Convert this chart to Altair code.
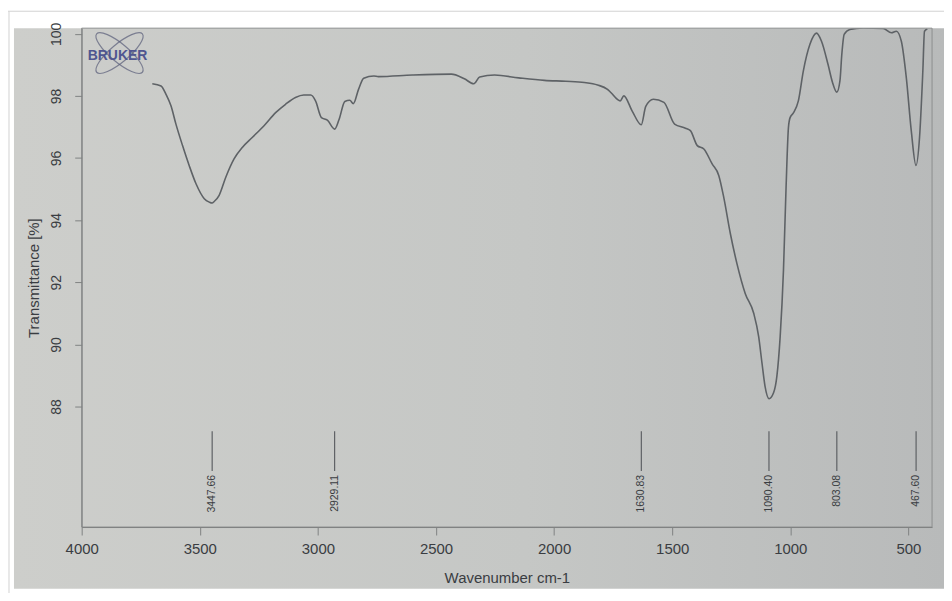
import altair as alt
import pandas as pd

# ---- data ----
wavenumber = [3701, 3664, 3643, 3622, 3601, 3573, 3545, 3516, 3481, 3460,
              3448, 3439, 3418, 3390, 3355, 3320, 3278, 3228, 3179, 3137,
              3095, 3060, 3030, 3010, 2985, 2960, 2929, 2910, 2886, 2865,
              2850, 2828, 2806, 2763, 2744, 2600, 2435, 2380, 2340, 2315,
              2252, 2150, 2041, 1950, 1872, 1816, 1774, 1760, 1720, 1705,
              1670, 1631, 1612, 1580, 1535, 1490, 1444, 1423, 1394, 1366,
              1331, 1303, 1282, 1254, 1226, 1191, 1155, 1134, 1120, 1107,
              1090, 1071, 1057, 1043, 1029, 1018, 1008, 1001, 987, 966,
              945, 917, 889, 868, 840, 822, 803, 790, 782, 772,
              748, 692, 607, 572, 551, 530, 509, 488, 468, 453,
              439, 432, 420]
transmittance = [98.39, 98.32, 98.05, 97.68, 97.09, 96.40, 95.76, 95.17, 94.69, 94.58,
                 94.55, 94.60, 94.80, 95.38, 95.97, 96.34, 96.66, 97.04, 97.46, 97.73,
                 97.95, 98.03, 98.03, 97.84, 97.30, 97.22, 96.93, 97.25, 97.82, 97.86,
                 97.75, 98.21, 98.57, 98.64, 98.62, 98.67, 98.70, 98.55, 98.39, 98.61,
                 98.67, 98.58, 98.50, 98.47, 98.43, 98.35, 98.21, 98.11, 97.84, 98.00,
                 97.52, 97.07, 97.66, 97.89, 97.79, 97.09, 96.96, 96.88, 96.40, 96.29,
                 95.81, 95.44, 94.74, 93.57, 92.60, 91.64, 91.00, 90.25, 89.40, 88.65,
                 88.25, 88.44, 88.97, 90.25, 92.39, 95.06, 96.98, 97.30, 97.45, 97.84,
                 98.80, 99.66, 100.02, 99.76, 99.00, 98.45, 98.12, 98.48, 99.34, 99.98,
                 100.14, 100.19, 100.17, 100.03, 100.08, 99.76, 98.59, 96.88, 95.76, 96.66,
                 98.80, 100.08, 100.15]

peak_wavenumbers = [3447.66, 2929.11, 1630.83, 1090.40, 803.08, 467.60]
peak_labels = ["3447.66", "2929.11", "1630.83", "1090.40", "803.08", "467.60"]

x_ticks = [4000, 3500, 3000, 2500, 2000, 1500, 1000, 500]
y_ticks = [88, 90, 92, 94, 96, 98, 100]

marker_top = 87.20
marker_bottom = 85.92
label_y = 85.80

# ---- styling ----
W, H = 854, 501
FONT = "Liberation Sans"
TEXT = "#3a3d42"
AXIS = "#7f8282"

xscale = alt.Scale(domain=[400, 4000], reverse=True, nice=False, zero=False)
yscale = alt.Scale(domain=[84.12, 100.18], nice=False, zero=False)

spec_df = pd.DataFrame({"w": wavenumber, "t": transmittance})
peaks_df = pd.DataFrame({"w": peak_wavenumbers, "label": peak_labels,
                         "top": [marker_top] * len(peak_labels),
                         "bottom": [marker_bottom] * len(peak_labels),
                         "ly": [label_y] * len(peak_labels)})
one = pd.DataFrame({"a": [0]})

# photographed paper background (decoration)
paper = alt.Chart(one).mark_rect(
    color=alt.Gradient(
        gradient="linear",
        stops=[alt.GradientStop(color="#cdcecb", offset=0),
               alt.GradientStop(color="#c5c7c5", offset=0.55),
               alt.GradientStop(color="#b8baba", offset=1)],
        x1=0, x2=1, y1=0, y2=0)
).encode(x=alt.value(-68), x2=alt.value(866), y=alt.value(0), y2=alt.value(563))

border_top = alt.Chart(one).mark_rule(color="#d2d2d2", strokeWidth=1).encode(
    x=alt.value(-74), x2=alt.value(870), y=alt.value(-17))
border_left = alt.Chart(one).mark_rule(color="#d2d2d2", strokeWidth=1).encode(
    x=alt.value(-73), y=alt.value(-17), y2=alt.value(574))

frame = alt.Chart(one).mark_rect(filled=False, stroke="#8c8e8e", strokeWidth=1).encode(
    x=alt.value(0), x2=alt.value(W), y=alt.value(0), y2=alt.value(H))

# Bruker logo (decoration)
ellipse = "M -1 0 A 1 0.3 0 1 0 1 0 A 1 0.3 0 1 0 -1 0 Z"
logo_a = alt.Chart(one).mark_point(shape=ellipse, filled=False, size=3600, angle=40,
                                   color="#5a5e7a", strokeWidth=1.2).encode(
    x=alt.value(38), y=alt.value(25))
logo_b = alt.Chart(one).mark_point(shape=ellipse, filled=False, size=3600, angle=320,
                                   color="#5a5e7a", strokeWidth=1.2).encode(
    x=alt.value(38), y=alt.value(25))
logo_text = alt.Chart(one).mark_text(text="BRUKER", font=FONT, fontSize=14, fontWeight="bold",
                                     color="#4f5690", align="center", baseline="middle").encode(
    x=alt.value(36), y=alt.value(28))

line = alt.Chart(spec_df).mark_line(color="#5e6266", strokeWidth=1.6, clip=True,
                                    interpolate="monotone").encode(
    x=alt.X("w:Q", scale=xscale,
            axis=alt.Axis(values=x_ticks, title="Wavenumber cm-1", grid=False,
                          labelFlush=False, labelOverlap=False, format="d",
                          labelFont=FONT, labelFontSize=15, labelColor=TEXT, labelPadding=7,
                          tickSize=8, tickColor=AXIS, domainColor=AXIS,
                          titleFont=FONT, titleFontSize=15, titleFontWeight="normal",
                          titleColor=TEXT, titlePadding=14, zindex=1)),
    y=alt.Y("t:Q", scale=yscale,
            axis=alt.Axis(values=y_ticks, title="Transmittance [%]", grid=False,
                          labelFlush=False, labelOverlap=False, labelAngle=270, format="d",
                          labelFont=FONT, labelFontSize=14, labelColor=TEXT, labelPadding=11,
                          tickSize=7, tickColor=AXIS, domainColor=AXIS,
                          titleFont=FONT, titleFontSize=15, titleFontWeight="normal",
                          titleColor=TEXT, titlePadding=8, zindex=1)),
)

rules = alt.Chart(peaks_df).mark_rule(color="#55585c", strokeWidth=1.1).encode(
    x=alt.X("w:Q", scale=xscale), y=alt.Y("top:Q", scale=yscale), y2="bottom:Q")

labels = alt.Chart(peaks_df).mark_text(angle=270, align="right", baseline="middle",
                                       font=FONT, fontSize=10.5, color=TEXT).encode(
    x=alt.X("w:Q", scale=xscale), y=alt.Y("ly:Q", scale=yscale), text="label:N")

chart = alt.layer(paper, border_top, border_left, logo_a, logo_b, logo_text,
                  line, rules, labels, frame).properties(
    width=W, height=H,
    padding={"left": 74, "top": 19, "right": 12, "bottom": 65},
    autosize=alt.AutoSizeParams(type="none"),
    background="#ffffff",
).configure_view(stroke=None)

chart.save("out.html", embed_options={"renderer": "svg", "actions": False})
